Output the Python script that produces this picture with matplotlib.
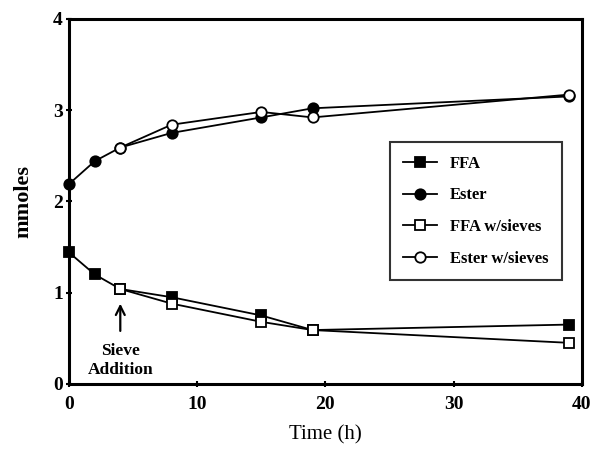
import matplotlib.pyplot as plt

plt.rcParams['font.family'] = ['Liberation Serif', 'DejaVu Serif']

T_MAIN = [0, 2, 4, 8, 15, 19, 39]
FFA = [1.44, 1.20, 1.04, 0.95, 0.75, 0.59, 0.65]
ESTER = [2.19, 2.44, 2.59, 2.75, 2.92, 3.02, 3.15]
T_SIEVES = [4, 8, 15, 19, 39]
FFA_SIEVES = [1.04, 0.88, 0.68, 0.59, 0.45]
ESTER_SIEVES = [2.59, 2.84, 2.98, 2.92, 3.17]
SIEVE_TIME = 4

fig = plt.figure(figsize=(5.92, 4.49), dpi=100)
ax = fig.add_axes([0.1166, 0.145, 0.866, 0.813])

kw = dict(color='black', linewidth=1.3, markersize=7.5, markeredgewidth=1.3,
          clip_on=False)
ax.plot(T_MAIN, FFA, marker='s', markerfacecolor='black', label='FFA',
        zorder=3, **kw)
ax.plot(T_MAIN, ESTER, marker='o', markerfacecolor='black', label='Ester',
        zorder=3, **kw)
ax.plot(T_SIEVES, FFA_SIEVES, marker='s', markerfacecolor='white',
        label='FFA w/sieves', zorder=4, **kw)
ax.plot(T_SIEVES, ESTER_SIEVES, marker='o', markerfacecolor='white',
        label='Ester w/sieves', zorder=4, **kw)

ax.annotate('', xy=(SIEVE_TIME, 0.91), xytext=(SIEVE_TIME, 0.55),
            arrowprops=dict(arrowstyle='->', color='black', lw=1.6,
                            mutation_scale=16))
ax.text(SIEVE_TIME, 0.26, 'Sieve\nAddition', ha='center', va='center',
        fontsize=12.5, fontweight='bold', linespacing=1.25)

ax.set_xlim(0, 40)
ax.set_ylim(0, 4)
ax.set_xticks([0, 10, 20, 30, 40])
ax.set_yticks([0, 1, 2, 3, 4])
for side in ax.spines.values():
    side.set_linewidth(2.2)
ax.tick_params(direction='inout', length=5, width=1.5, labelsize=14, pad=2)
ax.tick_params(axis='x', pad=6)
for lab in ax.get_xticklabels() + ax.get_yticklabels():
    lab.set_fontweight('bold')
ax.set_xlabel('Time (h)', fontsize=15, labelpad=9)
ax.set_ylabel('mmoles', fontsize=16, fontweight='bold', labelpad=14)

leg = ax.legend(loc='upper left', bbox_to_anchor=(0.61, 0.685),
                prop={'weight': 'bold', 'size': 12}, frameon=True,
                fancybox=False, edgecolor='black', handlelength=2.0,
                labelspacing=0.95, borderpad=0.8)
leg.get_frame().set_linewidth(1.5)

fig.savefig('out.png', dpi=100)
